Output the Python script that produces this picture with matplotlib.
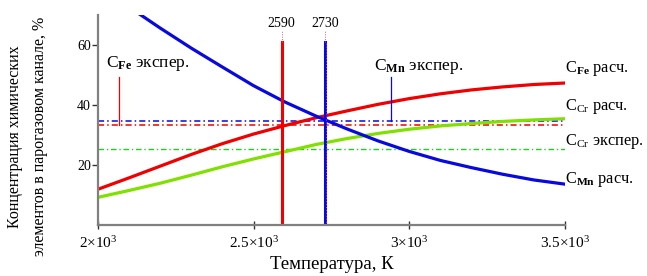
import matplotlib
matplotlib.use("Agg")
import matplotlib.pyplot as plt

plt.rcParams['font.family'] = ['Liberation Serif', 'DejaVu Serif']
plt.rcParams['mathtext.fontset'] = 'custom'
plt.rcParams['mathtext.rm'] = 'Liberation Serif'
plt.rcParams['mathtext.it'] = 'Liberation Serif:italic'
plt.rcParams['mathtext.bf'] = 'Liberation Serif:bold'

# ---- data ----
T = [2000, 2100, 2200, 2300, 2400, 2500, 2600, 2700, 2800, 2900, 3000,
     3100, 3200, 3300, 3400, 3500]
c_mn = [80.0, 72.6, 65.6, 58.9, 52.6, 46.4, 41.0, 36.3, 32.0, 28.0, 24.5,
        21.5, 19.1, 16.9, 15.0, 13.6]
c_fe = [11.9, 15.7, 19.6, 23.5, 27.1, 30.3, 33.1, 35.7, 38.0, 40.2, 42.1,
        43.7, 45.0, 46.0, 46.8, 47.3]
c_cr = [9.2, 11.5, 13.9, 16.6, 19.4, 22.0, 24.4, 26.8, 28.8, 30.5, 31.9,
        33.0, 33.8, 34.5, 35.0, 35.4]
exp_mn = 34.6
exp_fe = 33.2
exp_cr = 25.2
t_fe = 2590
t_mn = 2730
xticks = [2000, 2500, 3000, 3500]
xticklabels = [r'$2{\times}10^{3}$', r'$2.5{\times}10^{3}$',
               r'$3{\times}10^{3}$', r'$3.5{\times}10^{3}$']
yticks = [20, 40, 60]

RED = '#f00000'
BLUE = '#0808e0'
GREEN = '#80e000'

fig = plt.figure(figsize=(6.47, 2.76), dpi=100)
ax = fig.add_axes([0.1515, 0.185, 0.7215, 0.761])
ax.set_xlim(2000, 3500)
ax.set_ylim(0, 70)

ds = (0, (4, 2, 1, 2))
ax.plot([T[0], T[-1]], [exp_mn, exp_mn], color=BLUE, lw=1.1, ls=ds)
ax.plot([T[0], T[-1]], [exp_fe, exp_fe], color=RED, lw=1.1, ls=ds)
ax.plot([T[0], T[-1]], [exp_cr, exp_cr], color='#20d020', lw=1.0, ls=ds)

ax.plot(T, c_cr, color=GREEN, lw=2.3)
ax.plot(T, c_fe, color=RED, lw=2.3)
ax.plot(T, c_mn, color=BLUE, lw=2.3)

# vertical markers
vtop = 61
ax.plot([t_fe, t_fe], [0, vtop], color=RED, lw=2.2)
ax.plot([t_mn, t_mn], [0, vtop], color=BLUE, lw=2.2)
ax.plot([t_mn + 3, t_mn + 3], [0, vtop], color='#d040c0', lw=0.7, ls=(0, (1, 2)))
for t in (t_fe, t_mn):
    ax.plot([t, t], [vtop, 65.0], color='#e06060', lw=0.7, ls=(0, (1, 1.5)), clip_on=False)
    ax.text(t, 67.3, str(t), ha='center', va='center', fontsize=10)

# label pointer lines
ax.plot([2068, 2068], [49.4, exp_fe], color=RED, lw=0.9)
ax.plot([2940, 2940], [49.2, exp_mn], color=BLUE, lw=0.9)

fs = 12.5
fs2 = 11.8
ax.text(2025, 53.9, r'C$_{\mathbf{Fe}}$ экспер.', fontsize=fs, va='center', ha='left')
ax.text(2888, 52.9, r'C$_{\mathbf{Mn}}$ экспер.', fontsize=fs, va='center', ha='left')
ax.text(3500, 52.2, r'C$_{\mathbf{Fe}}$ расч.', fontsize=fs2, va='center', ha='left', clip_on=False)
ax.text(3500, 39.4, r'C$_{\mathrm{Cr}}$ расч.', fontsize=fs2, va='center', ha='left', clip_on=False)
ax.text(3500, 27.9, r'C$_{\mathrm{Cr}}$ экспер.', fontsize=fs2, va='center', ha='left', clip_on=False)
ax.text(3500, 15.2, r'C$_{\mathbf{Mn}}$ расч.', fontsize=fs2, va='center', ha='left', clip_on=False)

for s in ('top', 'right'):
    ax.spines[s].set_visible(False)
for s in ('left', 'bottom'):
    ax.spines[s].set_color('#808080')
    ax.spines[s].set_linewidth(1.6)

ax.set_xticks(xticks)
ax.set_xticklabels(xticklabels, fontsize=11)
ax.set_yticks(yticks)
ax.set_yticklabels([str(v) for v in yticks], fontsize=10)
ax.tick_params(axis='x', direction='inout', length=6, width=1, color='#333333', pad=4)
ax.tick_params(axis='y', direction='out', length=4, width=1, color='#333333', pad=1)

ax.set_xlabel('Температура, К', fontsize=13.5, labelpad=4)
fig.text(0.0425, 0.505, 'Концентрация химических\nэлементов в парогазовом канале, %',
         rotation=90, ha='center', va='center', fontsize=11.5, linespacing=1.8)

fig.savefig('out.png', dpi=100)
